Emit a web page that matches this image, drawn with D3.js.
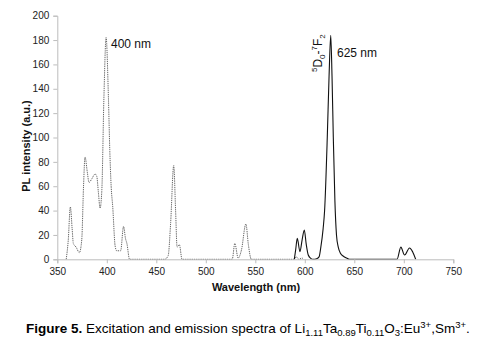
<!DOCTYPE html>
<html><head><meta charset="utf-8">
<script src="https://cdn.jsdelivr.net/npm/d3@7"></script>
<style>body{margin:0;background:#fff}svg{display:block;font-family:"Liberation Sans",Arial,sans-serif}</style>
</head><body><svg id="c" width="479" height="359"></svg>
<script>
// Excitation spectrum (dashed) — wavelength (nm), intensity (a.u.)
const excWl = [359,361,363.2,365,366.2,369,372.3,374.7,376.5,378,380.4,382,384.8,388.2,389.9,391.5,393.2,395,397,399.3,401.7,403,404.4,406,408.4,410,414,416.9,418.9,420.3,423,
  458.5,462,464.5,467.6,469.5,471,473.3,476,
  526.7,529.3,532.7,536,540.5,543,546,
  589,591.5,594,597,599];
const excI  = [0,15,43,25,13,10,5.5,16,60,84,71,63,66,70,68,55,42,57,130,182,131,90,60,43,11,7,7,27,17,13,0,
  0,3,30,77,40,10,12,0,
  0,13,1,7.6,29,12,0,
  0,2,0,1,0];
// Emission spectrum (solid)
const emWl = [589.4,590.8,592.4,595.1,597.3,599.5,601.5,603.5,606,608.5,612,614.4,616.2,618.5,620,622.7,624.5,626.2,627.5,628.8,630.4,632,633.8,636,639,642.3,645,
  693.2,697,700.8,705.8,709,712];
const emI  = [0,8,17.2,6.3,16,24,12,3.5,0.8,0,0.5,2,10,25,40,100,150,184,150,100,48,20,10,5,2.5,1,0,
  0,10,3.5,9.3,6,0];
const xTicks = [350,400,450,500,550,600,650,700,750];
const yTicks = [0,20,40,60,80,100,120,140,160,180,200];

const svg = d3.select("#c");
const x = d3.scaleLinear().domain([350,750]).range([57.3,453.3]);
const y = d3.scaleLinear().domain([0,200]).range([259.3,15.7]);

const exc = excWl.map((w,i)=>[w,excI[i]]);
const em = emWl.map((w,i)=>[w,emI[i]]);

const lineExc = d3.line().x(d=>x(d[0])).y(d=>y(d[1])).curve(d3.curveMonotoneX);
const lineEm = d3.line().x(d=>x(d[0])).y(d=>y(d[1])).curve(d3.curveMonotoneX);

svg.append("path").attr("d",lineExc(exc)).attr("fill","none").attr("stroke","#555")
  .attr("stroke-width",0.9).attr("stroke-dasharray","1.3,0.9");
svg.append("path").attr("d",lineEm(em)).attr("fill","none").attr("stroke","#111")
  .attr("stroke-width",1.1);

// axes
const axCol = "#bdbdbd";
const gx = svg.append("g").attr("transform",`translate(0,${y(0)})`)
  .call(d3.axisBottom(x).tickValues(xTicks).tickSize(4).tickPadding(5));
const gy = svg.append("g").attr("transform",`translate(${x(350)},0)`)
  .call(d3.axisLeft(y).tickValues(yTicks).tickSize(4).tickPadding(4));
[gx,gy].forEach(g=>{
  g.select(".domain").attr("stroke",axCol);
  g.selectAll(".tick line").attr("stroke",axCol);
  g.selectAll("text").attr("font-size",10).attr("fill","#222").attr("font-family","Liberation Sans, Arial, sans-serif");
});

// axis titles
svg.append("text").attr("x",256).attr("y",291).attr("text-anchor","middle")
  .attr("font-size",11).attr("font-weight","bold").attr("fill","#111").text("Wavelength (nm)");
svg.append("text").attr("transform","translate(30,146) rotate(-90)").attr("text-anchor","middle")
  .attr("font-size",11).attr("font-weight","bold").attr("fill","#111").text("PL intensity (a.u.)");

// annotations
svg.append("text").attr("x",111).attr("y",48).attr("font-size",12).attr("fill","#111").text("400 nm");
svg.append("text").attr("x",337).attr("y",57).attr("font-size",12).attr("fill","#111").text("625 nm");
const tr = svg.append("text").attr("transform","translate(322,72) rotate(-90)").attr("font-size",12).attr("fill","#111");
tr.append("tspan").attr("font-size",8).attr("dy",-5).text("5");
tr.append("tspan").attr("dy",5).text("D");
tr.append("tspan").attr("font-size",8).attr("dy",3).text("0");
tr.append("tspan").attr("dy",-3).text("-");
tr.append("tspan").attr("font-size",8).attr("dy",-5).text("7");
tr.append("tspan").attr("dy",5).text("F");
tr.append("tspan").attr("font-size",8).attr("dy",3).text("2");

// caption
const cap = svg.append("text").attr("x",26).attr("y",333).attr("font-size",13.5).attr("fill","#000");
cap.append("tspan").attr("font-weight","bold").text("Figure 5.");
cap.append("tspan").text(" Excitation and emission spectra of Li");
cap.append("tspan").attr("font-size",9.5).attr("dy",3).text("1.11");
cap.append("tspan").attr("dy",-3).text("Ta");
cap.append("tspan").attr("font-size",9.5).attr("dy",3).text("0.89");
cap.append("tspan").attr("dy",-3).text("Ti");
cap.append("tspan").attr("font-size",9.5).attr("dy",3).text("0.11");
cap.append("tspan").attr("dy",-3).text("O");
cap.append("tspan").attr("font-size",9.5).attr("dy",3).text("3");
cap.append("tspan").attr("dy",-3).text(":Eu");
cap.append("tspan").attr("font-size",9.5).attr("dy",-5).text("3+");
cap.append("tspan").attr("dy",5).text(",Sm");
cap.append("tspan").attr("font-size",9.5).attr("dy",-5).text("3+");
cap.append("tspan").attr("dy",5).text(".");
</script></body></html>
